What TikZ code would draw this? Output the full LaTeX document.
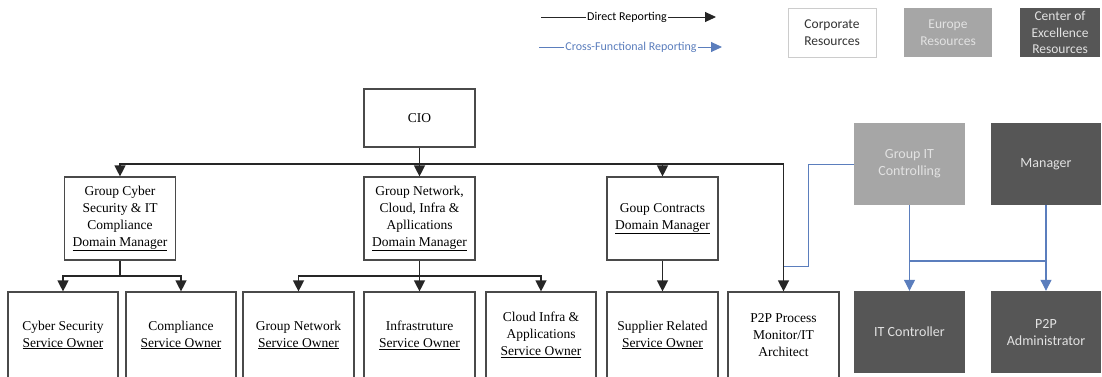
\documentclass[tikz,border=0pt]{standalone}
\usepackage{fontspec}
\setmainfont{Liberation Serif}
\newfontfamily\tnr{Liberation Serif}
\newfontfamily\carlito{Carlito}
\usetikzlibrary{arrows.meta}
\definecolor{lgray}{HTML}{A6A6A6}
\definecolor{dgray}{HTML}{565656}
\definecolor{ltext}{HTML}{E2E2E2}
\definecolor{xblue}{HTML}{5B7EBD}
\definecolor{bord}{HTML}{4A4A4A}
\tikzset{
  boxnode/.style = {align=center, inner sep=0pt, text centered,
    minimum width=111pt},
  wb/.style = {boxnode, rectangle, draw=bord, line width=1.2pt, fill=white,
    font=\tnr\fontsize{13.5}{17}\selectfont, minimum height=83pt},% white box, serif text
  lb/.style = {boxnode, rectangle, fill=lgray, text=ltext,
    font=\carlito\fontsize{14}{17}\selectfont, minimum height=82pt},% light grey box
  db/.style = {lb, fill=dgray},% dark grey box
  keybox/.style = {lb, minimum width=88pt, minimum height=49pt,
    font=\carlito\fontsize{13.5}{16.5}\selectfont},% legend box
  keytext/.style = {font=\carlito\fontsize{12}{14}\selectfont, fill=white,
    inner sep=1pt},
  dir/.style = {draw=black!85, line width=1.3pt},% direct reporting
  xfn/.style = {draw=xblue, line width=1.1pt}% cross-functional reporting
}

\begin{document}
\begin{tikzpicture}[x=1pt,y=-1pt,>={Triangle[width=11pt,length=11pt]}]
\useasboundingbox (0,0) rectangle (1102,376);

% legend
\node[keytext] (dr) at (627,17) {Direct Reporting};
\coordinate (dra) at (541,17);
\coordinate (drb) at (716,17);
\draw[dir, line width=1pt] (dra) -- (dr);
\draw[dir, line width=1pt, -{Triangle[width=10pt,length=11pt]}] (dr) -- (drb);
\node[keytext, text=xblue] (xr) at (631,47) {Cross-Functional Reporting};
\coordinate (xra) at (539,47);
\coordinate (xrb) at (722,47);
\draw[xfn, line width=0.9pt] (xra) -- (xr);
\draw[xfn, line width=0.9pt, -{Triangle[width=10pt,length=11pt]}] (xr) -- (xrb);
\node[keybox, fill=white, draw=black!20, line width=0.8pt, text=black!80] (corp) at (832,32.5) {Corporate\\Resources};
\node[keybox] (eur) at (948,32.5) {Europe\\Resources};
\node[keybox, fill=dgray, minimum width=80pt] (coe) at (1060,32.5) {Center of\\Excellence\\Resources};

% top and domain managers
\node[wb, minimum height=58pt] (cio) at (419.5,118) {CIO};
\node[wb] (cyberdm) at (120,218.5) {Group Cyber\\Security \& IT\\Compliance\\\underline{Domain Manager}};
\node[wb] (netdm) at (419.5,218.5) {Group Network,\\Cloud, Infra \&\\Apllications\\\underline{Domain Manager}};
\node[wb] (contdm) at (662.5,218.5) {Goup Contracts\\\underline{Domain Manager}};

% service owners
\node[wb, minimum width=110pt, minimum height=86pt] (cybso) at (63,335) {Cyber Security\\\underline{Service Owner}};
\node[wb, minimum width=110pt, minimum height=86pt] (compso) at (181,335) {Compliance\\\underline{Service Owner}};
\node[wb, minimum height=86pt] (netso) at (298.5,335) {Group Network\\\underline{Service Owner}};
\node[wb, minimum height=86pt] (infso) at (419.5,335) {Infrastruture\\\underline{Service Owner}};
\node[wb, minimum width=110pt, minimum height=86pt] (cloudso) at (541,335) {Cloud Infra \&\\Applications\\\underline{Service Owner}};
\node[wb, minimum height=86pt] (suppso) at (662.5,335) {Supplier Related\\\underline{Service Owner}};
\node[wb, minimum height=86pt] (p2p) at (783.5,335) {P2P Process\\Monitor/IT\\Architect};

% grey resources
\node[lb] (gitc) at (909.5,164) {Group IT\\Controlling};
\node[db, minimum width=110pt] (mgr) at (1046,164) {Manager};
\node[db] (itc) at (909.5,332) {IT Controller};
\node[db, minimum width=110pt] (p2pa) at (1046,332) {P2P\\Administrator};

% direct reporting
\coordinate (cbus) at (419.5,164);
\draw[dir, ->] (cio) -- (netdm);
\draw[dir, ->] (cbus) -| (cyberdm.north);
\draw[dir, ->] (cbus) -| (contdm.north);
\draw[dir, ->] (cbus) -| (p2p.north);
\coordinate (sbus1) at (120,276);
\draw[dir] (cyberdm) -- (sbus1);
\draw[dir, ->] (sbus1) -| (cybso.north);
\draw[dir, ->] (sbus1) -| (compso.north);
\coordinate (sbus2) at (419.5,276);
\draw[dir, ->] (netdm) -- (infso);
\draw[dir, ->] (sbus2) -| (netso.north);
\draw[dir, ->] (sbus2) -| (cloudso.north);
\draw[dir, ->] (contdm) -- (suppso);

% cross-functional reporting
\coordinate (xj1) at (808,266);
\coordinate (xj2) at (783.5,266);
\draw[xfn, line width=0.9pt] (gitc.west) -| (xj1) -- (xj2);
\coordinate (xbus) at (909.5,261);
\draw[xfn, ->] (gitc) -- (itc);
\draw[xfn, ->] (mgr) -- (p2pa);
\draw[xfn] (xbus) -- (xbus -| p2pa);
\end{tikzpicture}
\end{document}
